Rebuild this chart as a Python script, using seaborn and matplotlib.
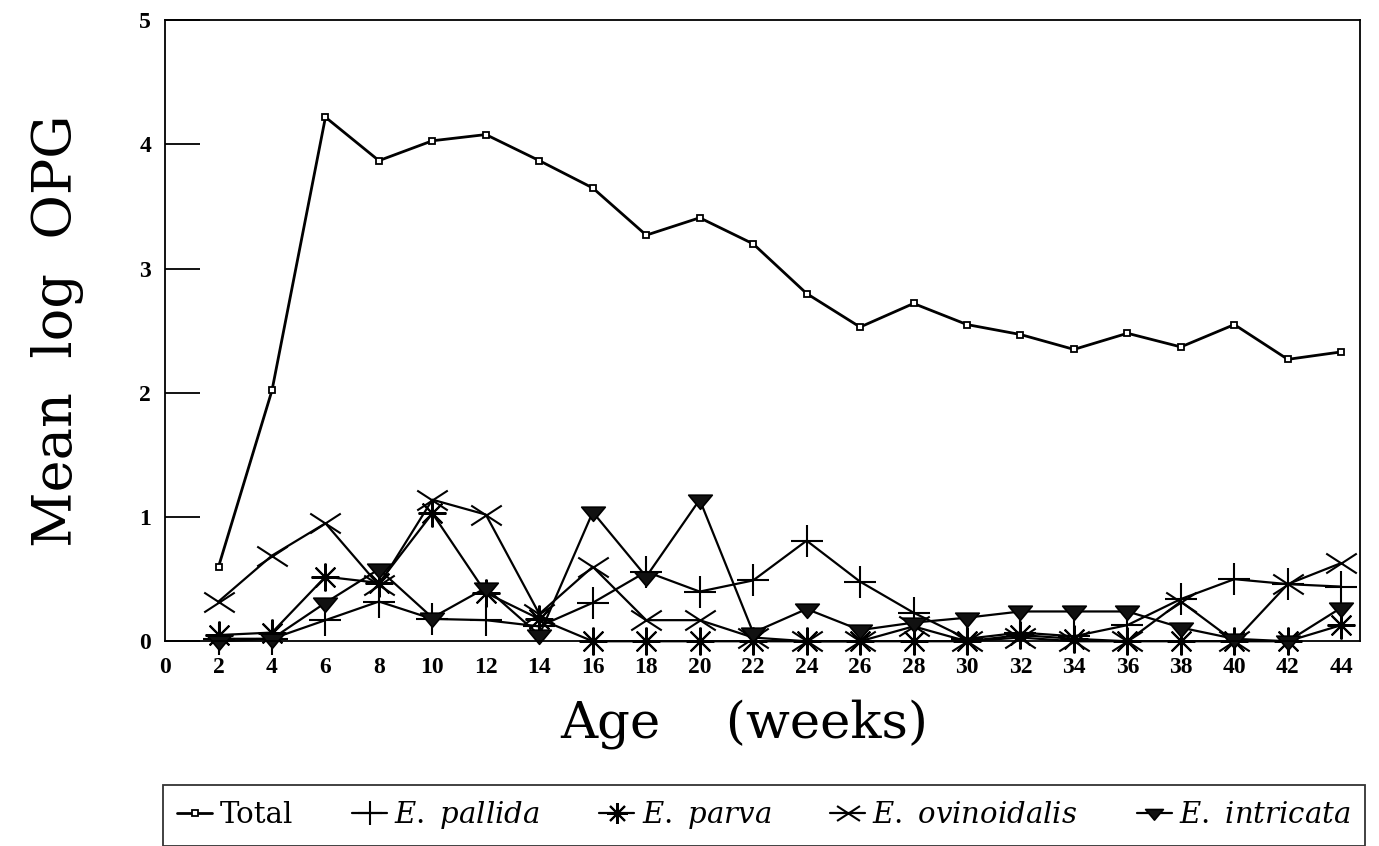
import numpy as np
import pandas as pd
import matplotlib
matplotlib.use("Agg")
import matplotlib.pyplot as plt
from matplotlib.path import Path
import seaborn as sns

# Age in weeks
weeks = [2, 4, 6, 8, 10, 12, 14, 16, 18, 20, 22, 24, 26, 28, 30, 32, 34, 36, 38, 40, 42, 44]

# Mean log OPG per series
total = [0.60, 2.02, 4.22, 3.87, 4.03, 4.08, 3.87, 3.65, 3.27, 3.41, 3.20,
         2.80, 2.53, 2.72, 2.55, 2.47, 2.35, 2.48, 2.37, 2.55, 2.27, 2.33]
pallida = [0.02, 0.02, 0.17, 0.32, 0.18, 0.17, 0.12, 0.31, 0.56, 0.40, 0.49,
           0.81, 0.48, 0.23, 0.02, 0.07, 0.04, 0.13, 0.34, 0.50, 0.46, 0.44]
parva = [0.05, 0.07, 0.52, 0.47, 1.03, 0.39, 0.18, 0.00, 0.00, 0.00, 0.00,
         0.00, 0.00, 0.00, 0.00, 0.05, 0.02, 0.00, 0.00, 0.00, 0.00, 0.13]
ovinoidalis = [0.32, 0.69, 0.95, 0.45, 1.14, 1.02, 0.22, 0.60, 0.17, 0.17, 0.03,
               0.00, 0.00, 0.12, 0.00, 0.03, 0.00, 0.00, 0.32, 0.00, 0.46, 0.63]
intricata = [0.00, 0.02, 0.31, 0.58, 0.19, 0.43, 0.05, 1.04, 0.52, 1.14, 0.07,
             0.26, 0.09, 0.15, 0.19, 0.24, 0.24, 0.24, 0.11, 0.02, 0.00, 0.27]

labels = ["Total", r"$\mathit{E.\ pallida}$", r"$\mathit{E.\ parva}$",
          r"$\mathit{E.\ ovinoidalis}$", r"$\mathit{E.\ intricata}$"]

sns.set_theme(style="white")
plt.rcParams["font.family"] = ["Liberation Serif", "DejaVu Serif"]
plt.rcParams["mathtext.fontset"] = "dejavuserif"
for k in ["text.color", "axes.labelcolor", "xtick.color", "ytick.color", "axes.edgecolor"]:
    plt.rcParams[k] = "black"

# custom marker shapes
flat_x = Path([(-1, -0.65), (1, 0.65), (-1, 0.65), (1, -0.65)],
              [Path.MOVETO, Path.LINETO, Path.MOVETO, Path.LINETO])
flat_tri = Path([(-1, 0.45), (1, 0.45), (0, -0.75), (-1, 0.45)],
                [Path.MOVETO, Path.LINETO, Path.LINETO, Path.CLOSEPOLY])

styles = [
    dict(marker="s", markersize=5, markerfacecolor="white", markeredgewidth=1.3, linewidth=2.0),
    dict(marker="+", markersize=23, markeredgewidth=1.5, linewidth=1.6),
    dict(marker=(8, 2, 0), markersize=20, markeredgewidth=1.5, linewidth=1.6),
    dict(marker=flat_x, markersize=22, markeredgewidth=1.5, linewidth=1.6),
    dict(marker=flat_tri, markersize=17, markerfacecolor="#111111", markeredgewidth=1.2, linewidth=1.6),
]

fig = plt.figure(figsize=(13.79, 8.46), dpi=100)
ax = fig.add_axes([0.1197, 0.242, 0.8665, 0.734])

series = [total, pallida, parva, ovinoidalis, intricata]
for vals, lab, st in zip(series, labels, styles):
    df = pd.DataFrame({"week": weeks, "opg": vals})
    sns.lineplot(data=df, x="week", y="opg", ax=ax, color="black", label=lab,
                 markeredgecolor="black", clip_on=False, **st)

ax.set_xlim(0, 44.7)
ax.set_ylim(0, 5)
ax.set_xticks(np.arange(0, 45, 2))
ax.set_yticks(np.arange(0, 6, 1))
ax.tick_params(axis="y", direction="in", length=25, width=1.3, left=True, pad=10, labelsize=17)
ax.tick_params(axis="x", length=0, pad=11, labelsize=17)
for t in ax.get_xticklabels() + ax.get_yticklabels():
    t.set_fontweight("bold")
for s in ax.spines.values():
    s.set_linewidth(1.3)

ax.set_xlabel("Age    (weeks)", family=["DejaVu Serif"], fontsize=37)
ax.xaxis.set_label_coords(0.485, -0.093)
ax.set_ylabel("Mean  log  OPG", family=["DejaVu Serif"], fontsize=39, labelpad=40)

ax.get_legend().remove()
handles, labs = ax.get_legend_handles_labels()
leg = fig.legend(handles, labs, loc="lower left", ncol=5, mode="expand",
                 bbox_to_anchor=(0.118, 0.0, 0.872, 0.075),
                 prop={"family": "DejaVu Serif", "size": 21},
                 frameon=True, fancybox=False, edgecolor="black",
                 handlelength=1.2, handletextpad=0.25, borderaxespad=0.0,
                 borderpad=0.5, columnspacing=0.4, markerscale=0.75)
leg.get_frame().set_linewidth(1.3)

fig.savefig("out.png", dpi=100)
